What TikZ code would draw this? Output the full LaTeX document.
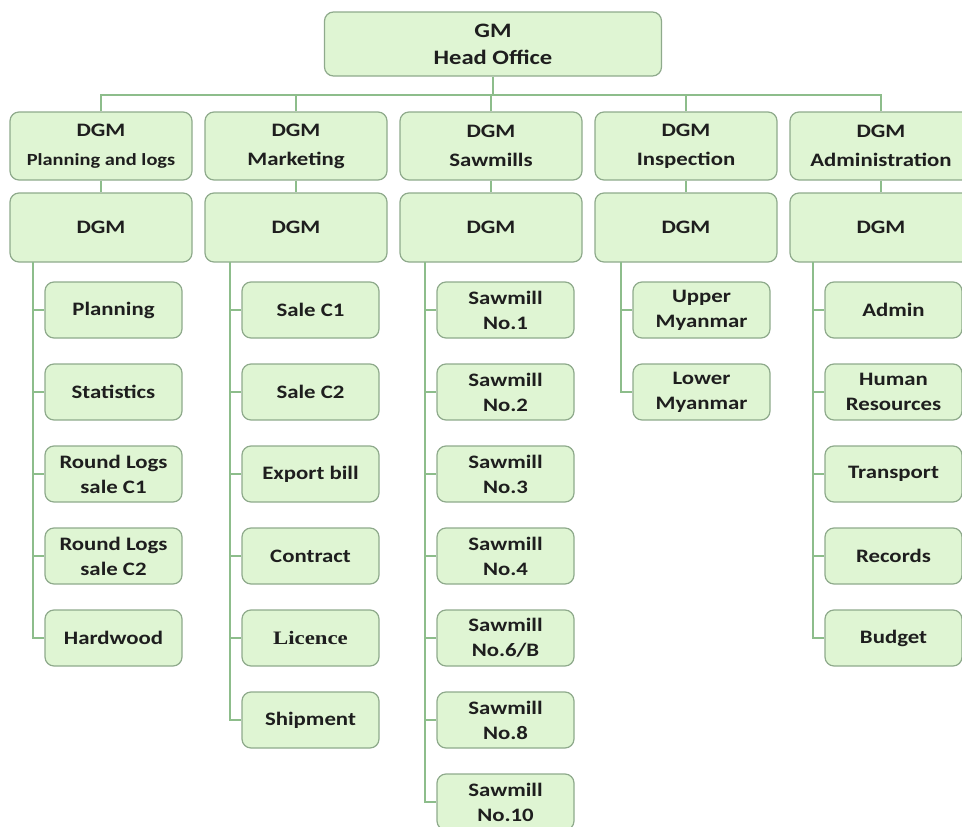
\documentclass[tikz,border=0pt]{standalone}
\usepackage{fontspec}
\setmainfont{Carlito}[FakeStretch=1.2]
\newfontfamily\licfont{Liberation Serif}[FakeStretch=1.2]
\usetikzlibrary{positioning}
\definecolor{boxfill}{HTML}{DFF5D3}
\definecolor{boxline}{HTML}{8FAA8C}
\definecolor{linkline}{HTML}{8DBD8B}
\definecolor{boxtext}{HTML}{1E1E1E}

\begin{document}
\begin{tikzpicture}[x=1pt, y=1pt, every node/.append style={align=center, draw=boxline, fill=boxfill, text=boxtext, rounded corners=9pt, line width=1.2pt, inner sep=0pt, font=\bfseries\fontsize{19}{25}\selectfont},
  head/.style={minimum width=337pt, minimum height=64pt, font=\bfseries\fontsize{20.5}{27}\selectfont},
  dgm/.style={minimum width=182pt, minimum height=68pt, font=\bfseries\fontsize{19}{29}\selectfont},
  sub/.style={minimum width=182pt, minimum height=69pt},
  unit/.style={minimum width=137pt, minimum height=56pt},
  link/.style={draw=linkline, line width=1.8pt}]
  \useasboundingbox (0,0) rectangle (962,-827);

  % head office
  \node [head] at (493,-44) (gm) {GM\\Head Office};

  % DGM level
  \node [dgm] at (101,-146) (pl) {DGM\\{\fontsize{17}{29}\selectfont Planning and logs}};
  \node [dgm] at (296,-146) (mk) {DGM\\Marketing};
  \node [dgm] at (491,-146) (sw) {DGM\\Sawmills};
  \node [dgm] at (686,-146) (in) {DGM\\Inspection};
  \node [dgm] at (881,-146) (ad) {DGM\\Administration};
  \node [sub] at (101,-227.5) (pld) {DGM};
  \node [sub] at (296,-227.5) (mkd) {DGM};
  \node [sub] at (491,-227.5) (swd) {DGM};
  \node [sub] at (686,-227.5) (ind) {DGM};
  \node [sub] at (881,-227.5) (add) {DGM};

  % planning and logs
  \node [unit] at (113.5,-310) (pl1) {Planning};
  \node [unit] at (113.5,-392) (pl2) {Statistics};
  \node [unit] at (113.5,-474) (pl3) {Round Logs\\sale C1};
  \node [unit] at (113.5,-556) (pl4) {Round Logs\\sale C2};
  \node [unit] at (113.5,-638) (pl5) {Hardwood};

  % marketing
  \node [unit] at (310.5,-310) (mk1) {Sale C1};
  \node [unit] at (310.5,-392) (mk2) {Sale C2};
  \node [unit] at (310.5,-474) (mk3) {Export bill};
  \node [unit] at (310.5,-556) (mk4) {Contract};
  \node [unit] at (310.5,-638) (mk5) {\licfont Licence};
  \node [unit] at (310.5,-720) (mk6) {Shipment};

  % sawmills
  \node [unit] at (505.5,-310) (sw1) {Sawmill\\No.1};
  \node [unit] at (505.5,-392) (sw2) {Sawmill\\No.2};
  \node [unit] at (505.5,-474) (sw3) {Sawmill\\No.3};
  \node [unit] at (505.5,-556) (sw4) {Sawmill\\No.4};
  \node [unit] at (505.5,-638) (sw5) {Sawmill\\No.6/B};
  \node [unit] at (505.5,-720) (sw6) {Sawmill\\No.8};
  \node [unit] at (505.5,-802) (sw7) {Sawmill\\No.10};

  % inspection
  \node [unit] at (701.5,-310) (in1) {Upper\\Myanmar};
  \node [unit] at (701.5,-392) (in2) {Lower\\Myanmar};

  % administration
  \node [unit] at (893.5,-310) (ad1) {Admin};
  \node [unit] at (893.5,-392) (ad2) {Human\\Resources};
  \node [unit] at (893.5,-474) (ad3) {Transport};
  \node [unit] at (893.5,-556) (ad4) {Records};
  \node [unit] at (893.5,-638) (ad5) {Budget};

  \coordinate (bus) at (493,-95);
  \coordinate (plx) at (33,-262);
  \coordinate (mkx) at (230,-262);
  \coordinate (swx) at (425,-262);
  \coordinate (inx) at (621,-262);
  \coordinate (adx) at (813,-262);

  \draw[link] (gm.south) -- (bus);
  \draw[link] (pl.north) |- (bus);
  \draw[link] (mk.north) |- (bus);
  \draw[link] (sw.north) |- (bus);
  \draw[link] (in.north) |- (bus);
  \draw[link] (ad.north) |- (bus);
  \draw[link] (pl.south) -- (pld.north);
  \draw[link] (mk.south) -- (mkd.north);
  \draw[link] (sw.south) -- (swd.north);
  \draw[link] (in.south) -- (ind.north);
  \draw[link] (ad.south) -- (add.north);

  \draw[link] (plx) |- (pl1.west);
  \draw[link] (plx) |- (pl2.west);
  \draw[link] (plx) |- (pl3.west);
  \draw[link] (plx) |- (pl4.west);
  \draw[link] (plx) |- (pl5.west);
  \draw[link] (mkx) |- (mk1.west);
  \draw[link] (mkx) |- (mk2.west);
  \draw[link] (mkx) |- (mk3.west);
  \draw[link] (mkx) |- (mk4.west);
  \draw[link] (mkx) |- (mk5.west);
  \draw[link] (mkx) |- (mk6.west);
  \draw[link] (swx) |- (sw1.west);
  \draw[link] (swx) |- (sw2.west);
  \draw[link] (swx) |- (sw3.west);
  \draw[link] (swx) |- (sw4.west);
  \draw[link] (swx) |- (sw5.west);
  \draw[link] (swx) |- (sw6.west);
  \draw[link] (swx) |- (sw7.west);
  \draw[link] (inx) |- (in1.west);
  \draw[link] (inx) |- (in2.west);
  \draw[link] (adx) |- (ad1.west);
  \draw[link] (adx) |- (ad2.west);
  \draw[link] (adx) |- (ad3.west);
  \draw[link] (adx) |- (ad4.west);
  \draw[link] (adx) |- (ad5.west);
\end{tikzpicture}
\end{document}
